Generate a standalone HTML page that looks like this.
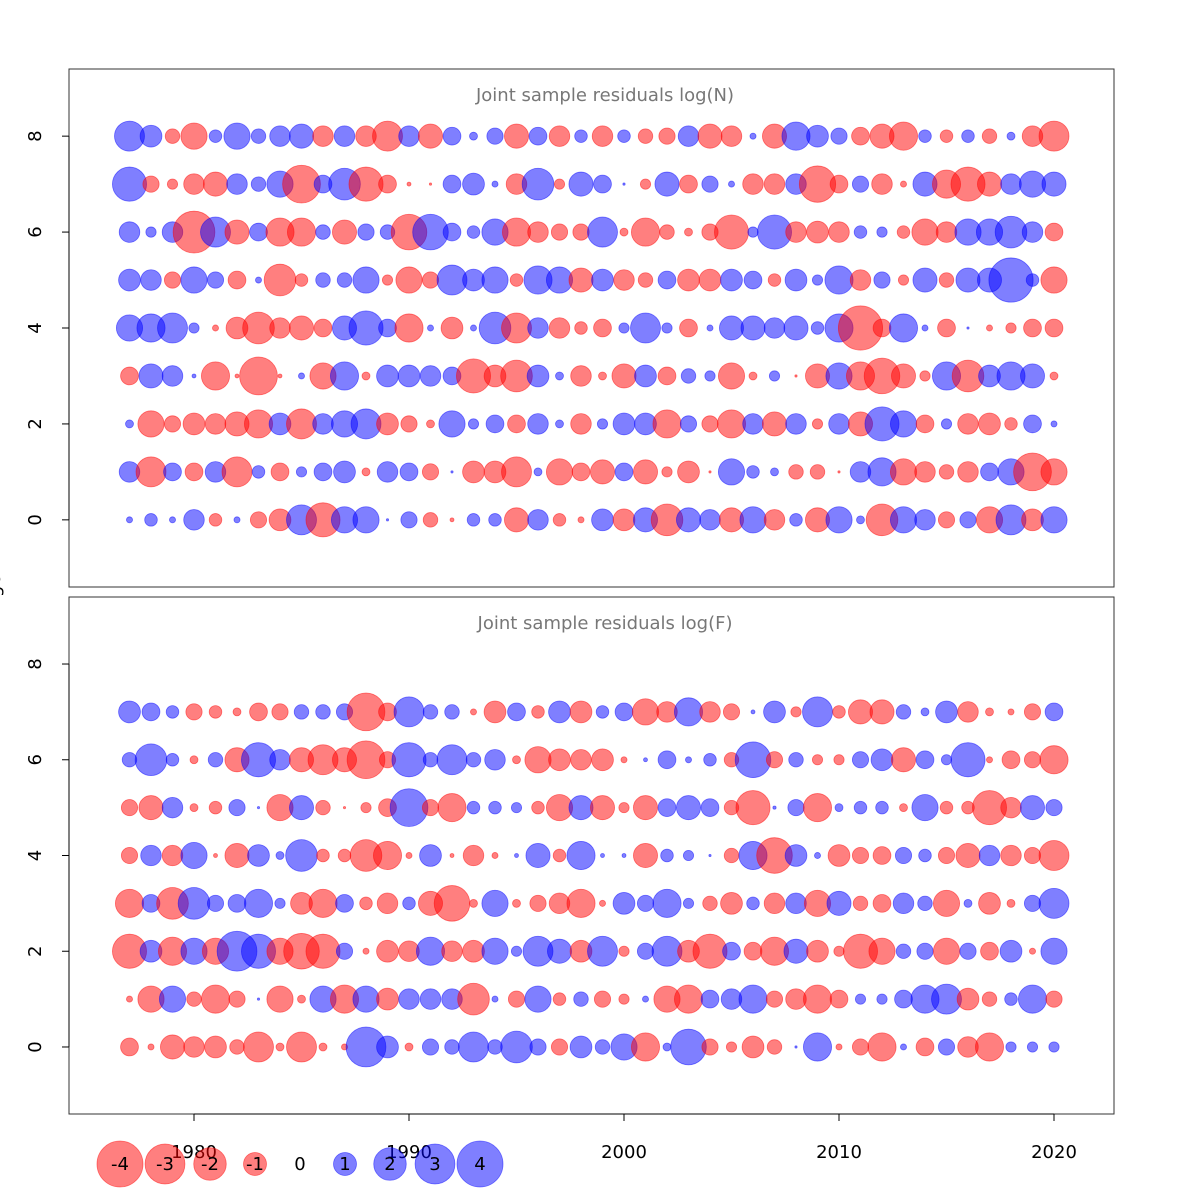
<!DOCTYPE html>
<html><head><meta charset="utf-8"><style>
html,body{margin:0;padding:0;background:#fff;}
svg{display:block;font-family:"DejaVu Sans","Liberation Sans",sans-serif;}
</style></head><body>
<svg id="chart" width="1200" height="1200" viewBox="0 0 1200 1200"></svg>
<script>
const years = [];
for (let y = 1977; y <= 2020; y++) years.push(y);
const xTicks = [1980, 1990, 2000, 2010, 2020];
const yTicks = [0, 2, 4, 6, 8];
const legendValues = [-4, -3, -2, -1, 0, 1, 2, 3, 4];

// Panel N: rows age 0..8
const resN0 = [0.07,0.3,0.07,0.8,-0.3,0.07,-0.5,-0.9,1.7,-2.2,1.3,1.3,0.01,0.5,-0.4,-0.03,0.3,0.3,-1.1,0.8,-0.3,-0.07,0.9,-0.9,1.1,-1.9,1.1,0.8,-1.1,1.3,-0.8,0.3,-1.1,1.3,0.12,-1.9,1.3,0.8,-0.5,0.5,-1.3,1.7,-0.9,1.3];
const resN1 = [0.8,-1.7,0.6,-0.6,0.8,-1.7,0.3,-0.6,0.2,0.6,0.9,-0.12,0.8,0.6,-0.5,0.01,-0.9,-0.9,-1.7,0.12,-1.3,-0.6,-1.1,0.6,-1.1,-0.2,-0.9,-0.01,1.3,0.3,0.12,-0.4,-0.4,-0.01,0.8,1.5,-1.3,-0.8,-0.4,-0.8,0.6,1.3,-2.7,-1.3];
const resN2 = [0.12,-1.3,-0.5,-0.9,-0.8,-1.1,-1.5,0.9,-1.7,0.8,1.3,1.7,-0.9,-0.5,-0.12,1.3,0.2,0.6,-0.6,0.8,0.12,-0.8,0.2,0.9,0.9,-1.5,0.5,-0.5,-1.5,0.8,-1.1,0.8,-0.2,0.8,-1.1,2.2,1.3,-0.6,0.2,-0.8,-0.9,-0.3,0.6,0.07];
const resN3 = [-0.6,1.1,0.8,0.03,-1.5,-0.03,-2.7,-0.03,0.07,-1.3,1.5,-0.12,0.9,0.9,0.8,0.6,-2.2,-0.9,-1.9,0.9,0.12,-0.8,-0.12,-1.1,0.9,-0.6,0.4,0.2,-1.3,-0.12,0.2,-0.01,-1.1,1.3,-1.5,-2.4,-1.1,-0.2,1.5,-1.9,0.9,1.5,1.1,-0.12];
const resN4 = [1.3,1.5,1.7,0.2,-0.07,-0.9,-1.9,-0.8,-1.1,-0.6,1.1,2.2,0.6,-1.5,0.07,-0.9,0.07,1.9,-1.7,0.8,-0.8,-0.3,-0.6,0.2,1.7,0.2,-0.6,0.07,1.1,1.1,0.8,1.1,0.3,1.5,-3.7,-0.6,1.5,0.07,-0.6,0.01,-0.07,-0.2,-0.6,-0.6];
const resN5 = [0.9,0.8,-0.5,1.3,0.5,-0.6,0.07,-1.9,-0.3,0.4,0.4,1.3,-0.2,-1.3,-0.5,1.7,0.9,1.3,-0.3,1.5,1.3,-1.1,0.9,-0.8,-0.4,0.6,-0.9,-0.9,0.9,0.6,-0.3,0.9,0.2,1.5,-0.8,0.5,-0.2,1.1,-0.4,1.1,1.1,3.7,0.3,-1.3];
const resN6 = [0.8,0.2,0.8,-3.3,1.7,-1.1,0.6,-1.5,-1.5,0.4,-1.1,0.5,0.4,-2.4,2.4,0.6,0.3,1.3,-1.5,-0.8,-0.5,-0.5,1.7,-0.12,-1.5,-0.4,-0.12,-0.5,-2.2,0.2,2.2,-0.8,-0.9,-0.8,0.3,0.2,-0.3,-1.3,-0.8,1.3,1.3,1.9,0.8,-0.6];
const resN7 = [2.2,-0.5,-0.2,-0.8,-1.1,0.8,0.4,1.3,-2.7,0.6,1.9,-2.2,-0.6,-0.03,-0.01,0.6,0.9,0.07,-0.8,1.9,-0.2,1.1,0.6,0.01,-0.2,1.1,-0.6,0.5,0.07,-0.8,-0.8,0.8,-2.5,-0.6,0.5,-0.8,-0.07,1.1,-1.5,-2.2,-1.1,0.8,1.3,1.1];
const resN8 = [1.7,0.9,-0.4,-1.3,0.3,1.3,0.4,0.8,1.1,-0.8,0.8,-0.8,-1.7,0.8,-1.1,0.6,0.12,0.5,-1.1,0.6,-0.8,0.3,-0.8,0.3,-0.4,-0.5,0.8,-1.1,-0.8,0.07,-1.1,1.5,0.9,0.5,-0.6,-1.1,-1.5,0.3,-0.3,0.3,-0.4,0.12,-0.8,-1.7];

// Panel F: rows age 0..7
const resF0 = [-0.6,-0.07,-1.1,-0.8,-0.9,-0.4,-1.7,-0.12,-1.7,-0.12,-0.07,3.0,0.9,-0.12,0.5,0.4,1.7,0.4,1.9,0.5,-0.5,0.9,0.4,1.3,-1.5,0.12,2.4,-0.5,-0.2,-0.9,-0.4,0.01,1.5,-0.07,-0.5,-1.5,0.07,-0.6,0.5,-0.8,-1.5,0.2,0.2,0.2];
const resF1 = [-0.07,-1.3,1.3,-0.4,-1.5,-0.5,0.01,-1.3,-0.12,1.3,-1.5,1.3,-0.9,0.8,0.8,0.8,-1.9,0.07,-0.5,1.3,-0.3,0.4,-0.5,-0.2,0.07,-1.3,-1.5,0.6,0.8,1.5,-0.5,-0.8,-1.5,-0.6,0.2,0.2,0.6,1.5,1.7,-0.9,-0.4,0.3,1.5,-0.5];
const resF2 = [-2.2,0.9,-1.5,1.3,-1.3,3.0,2.2,-1.3,-2.4,-2.2,0.5,-0.07,-0.9,-0.8,1.5,-0.8,-0.9,1.3,0.2,1.7,1.1,-0.9,1.7,-0.2,0.5,1.7,-0.9,-2.2,0.6,-0.6,-1.5,1.1,-0.9,-0.2,-2.2,-1.3,0.4,0.5,-1.3,0.5,-0.6,0.9,-0.07,1.3];
const resF3 = [-1.5,0.6,-1.9,1.9,0.5,0.6,1.5,0.2,-0.9,-1.5,0.6,-0.3,-0.8,0.3,-1.1,-2.4,-0.12,1.3,-0.12,-0.5,-0.8,-1.5,-0.07,0.9,0.5,1.5,0.2,-0.4,-0.9,0.3,-0.8,0.8,-1.3,1.1,-0.4,-0.6,0.8,0.4,-1.3,0.12,-0.9,-0.12,0.5,1.7];
const resF4 = [-0.5,0.8,-0.8,1.3,-0.03,-1.1,0.9,0.12,1.9,-0.3,-0.3,-1.9,-1.5,-0.07,0.9,-0.03,-0.8,-0.07,0.03,1.1,-0.3,1.5,0.03,0.03,-1.1,0.3,0.2,0.01,-0.4,1.5,-2.4,0.9,0.07,-0.9,-0.5,-0.6,0.5,0.3,-0.5,-1.1,0.8,-0.8,-0.5,-1.7];
const resF5 = [-0.5,-1.1,0.8,-0.12,-0.3,0.5,0.01,-1.3,1.1,-0.4,-0.01,-0.2,-0.6,2.7,-0.5,-1.5,0.3,0.3,0.2,-0.3,-1.3,1.1,-1.1,-0.2,-1.1,0.6,1.1,0.6,-0.4,-2.2,0.02,0.5,-1.5,0.12,0.3,0.3,-0.12,1.3,-0.3,-0.3,-2.2,-0.8,1.1,0.5];
const resF6 = [0.4,1.9,0.3,-0.12,0.4,-1.1,2.2,0.8,-1.1,-1.7,-1.1,-2.7,-0.5,2.2,0.4,1.7,0.4,0.8,-0.12,-1.3,-0.9,-0.8,-0.9,-0.07,0.03,0.6,0.07,0.3,-0.4,2.4,-0.5,0.4,-0.2,-0.2,0.5,0.9,-1.1,0.6,0.2,2.2,-0.07,-0.6,-0.5,-1.5];
const resF7 = [0.9,0.6,0.3,-0.5,-0.3,-0.12,-0.6,-0.5,0.4,0.4,0.5,-2.7,-0.6,1.7,0.4,0.4,-0.07,-0.9,0.6,-0.3,0.9,-0.9,0.3,0.6,-1.3,-0.8,1.5,-0.8,-0.5,0.03,0.9,-0.2,1.7,-0.3,-1.1,-1.1,0.4,0.12,0.9,-0.8,-0.12,-0.07,-0.5,0.6];

const seriesN = [resN0,resN1,resN2,resN3,resN4,resN5,resN6,resN7,resN8];
const seriesF = [resF0,resF1,resF2,resF3,resF4,resF5,resF6,resF7];

const NS = "http://www.w3.org/2000/svg";
const svg = document.getElementById('chart');
function mk(tag, attrs, parent) {
  const e = document.createElementNS(NS, tag);
  for (const k in attrs) e.setAttribute(k, attrs[k]);
  (parent || svg).appendChild(e);
  return e;
}
const X0 = 69, X1 = 1114;
function xScale(v) { return 194 + (v - 1980) * 21.5; }
function rScale(v) { return 11.5 * Math.sqrt(Math.abs(v)); }
function col(v) { return v < 0 ? 'rgba(255,0,0,0.5)' : 'rgba(0,0,255,0.5)'; }

function panel(top, bottom, title, series, name) {
  const yMin = -1.4, yMax = 9.4;
  const yScale = v => bottom - (v - yMin) / (yMax - yMin) * (bottom - top);
  const g = mk('g', {});
  
  
  const t = mk('text', {x: 605, y: top + 32, 'text-anchor': 'middle', 'font-size': 18, fill: '#777'}, g);
  t.textContent = title;
  
  
  series.forEach((row, age) => {
    row.forEach((v, i) => {
      const c = mk('circle', {cx: xScale(years[i]), cy: yScale(age), r: rScale(v), fill: col(v), stroke: col(v), 'stroke-width': 0.8}, g);
      
      
    });
  });
  const box = mk('rect', {x: X0, y: top, width: X1 - X0, height: bottom - top, fill: 'none', stroke: '#333', 'stroke-width': 1}, g);
  
  
  yTicks.forEach(tv => {
    const y = yScale(tv);
    const tk = mk('line', {x1: X0, x2: X0 - 7, y1: y, y2: y, stroke: '#000'}, g);
    
    
    const lb = mk('text', {x: 41, y: y, 'font-size': 18, 'text-anchor': 'middle', transform: 'rotate(-90 41 ' + y + ')'}, g);
    lb.textContent = tv;
    
    
  });
  const ax = mk('line', {x1: X0, x2: X0, y1: yScale(0), y2: yScale(8), stroke: '#000'}, g);
  
  
  return yScale;
}
panel(69, 587, 'Joint sample residuals log(N)', seriesN, 'panel-n');
panel(597, 1114, 'Joint sample residuals log(F)', seriesF, 'panel-f');

// x axis
const xa = mk('line', {x1: xScale(1980), x2: xScale(2020), y1: 1114, y2: 1114, stroke: '#000'});


xTicks.forEach(tv => {
  const x = xScale(tv);
  const tk = mk('line', {x1: x, x2: x, y1: 1114, y2: 1121, stroke: '#000'});
  
  
  const lb = mk('text', {x: x, y: 1158, 'font-size': 18, 'text-anchor': 'middle'});
  lb.textContent = tv;
  
  
});
const xt = mk('text', {x: 592, y: 1213, 'font-size': 18, 'text-anchor': 'middle'});
xt.textContent = 'Year';


const yt = mk('text', {x: 0, y: 592, 'font-size': 18, 'text-anchor': 'middle', transform: 'rotate(-90 0 592)'});
yt.textContent = 'Age';



// legend
legendValues.forEach((v, i) => {
  const x = 120 + i * 45;
  const y = 1164;
  if (v !== 0) {
    const c = mk('circle', {cx: x, cy: y, r: rScale(v), fill: col(v), stroke: col(v), 'stroke-width': 0.8});
    
    
  }
  const t = mk('text', {x: x, y: y + 6, 'font-size': 18, 'text-anchor': 'middle'});
  t.textContent = v;
  
  
});
</script>
</body></html>
